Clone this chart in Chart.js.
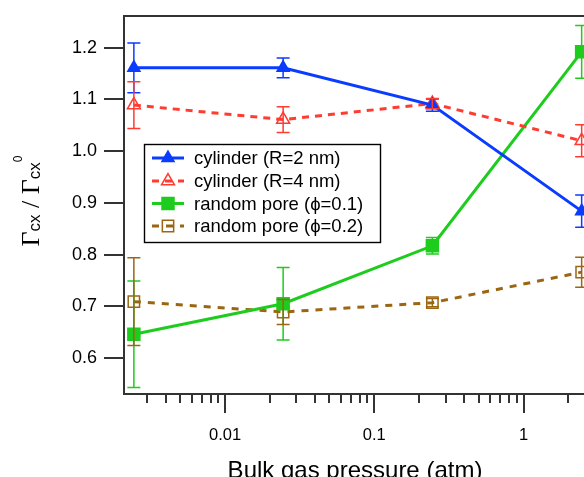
<!DOCTYPE html>
<html><head><meta charset="utf-8">
<script src="https://cdn.jsdelivr.net/npm/chart.js@4.4.1/dist/chart.umd.min.js"></script>
<style>
html,body{margin:0;padding:0;overflow:hidden;background:#fff;width:584px;height:477px}
#wrap{position:absolute;left:0;top:0;width:600px;height:500px}
canvas{display:block}
</style>
</head><body><div id="wrap"><canvas id="c" width="600" height="500"></canvas></div>
<script>
// ---- data ----
const pressures = [0.00245, 0.0245, 0.245, 2.45];
const seriesNames = ['cylinder (R=2 nm)', 'cylinder (R=4 nm)', 'random pore (\u03D5=0.1)', 'random pore (\u03D5=0.2)'];
const cyl2 = [1.161, 1.161, 1.089, 0.884];
const cyl2Err = [0.048, 0.019, 0.012, 0.031];
const cyl4 = [1.089, 1.061, 1.092, 1.020];
const cyl4Err = [0.045, 0.025, 0.010, 0.031];
const pore1 = [0.646, 0.705, 0.817, 1.192];
const pore1Err = [0.103, 0.070, 0.016, 0.051];
const pore2 = [0.709, 0.689, 0.707, 0.766];
const pore2Err = [0.085, 0.024, 0.008, 0.029];
const xMajorTicks = [0.01, 0.1, 1];
const xTickLabels = ['0.01', '0.1', '1'];
const yTickValues = [0.6, 0.7, 0.8, 0.9, 1.0, 1.1, 1.2];
const yTickLabels = ['0.6', '0.7', '0.8', '0.9', '1.0', '1.1', '1.2'];
const xAxisTitle = 'Bulk gas pressure (atm)';

// ---- styles ----
const colors = ['#0a3cff', '#ff3c32', '#1ecc1e', '#9a6612'];
const axisColor = '#333333';
const SANS = '"Liberation Sans", Arial, Helvetica, sans-serif';
const SERIF = '"Liberation Serif", "Times New Roman", serif';

// minor+major tick positions of the log axis (decades)
const xTickValues = [];
for (let e = -3; e <= 0; e++) for (let k = 1; k <= 9; k++) xTickValues.push(+(k * Math.pow(10, e)).toPrecision(6));

const toXY = arr => arr.map((v, i) => ({x: pressures[i], y: v}));
const mk = (i, vals, errs, style, filled, radius, dash) => ({
  label: seriesNames[i], data: toXY(vals), errors: errs,
  borderColor: colors[i], backgroundColor: filled ? colors[i] : 'rgba(0,0,0,0)',
  borderWidth: 3, borderDash: dash, tension: 0, fill: false,
  pointStyle: style, pointRadius: radius, pointHoverRadius: radius,
  pointBorderWidth: 1.5, pointBorderColor: colors[i],
  pointBackgroundColor: filled ? colors[i] : 'rgba(0,0,0,0)'
});

const datasets = [
  mk(0, cyl2, cyl2Err, 'triangle', true, 7, []),
  mk(1, cyl4, cyl4Err, 'triangle', false, 7.5, [7, 6]),
  mk(2, pore1, pore1Err, 'rect', true, 8.5, []),
  mk(3, pore2, pore2Err, 'rect', false, 8, [7, 7])
];

function drawMarker(ctx, style, r, x, y, color, filled) {
  ctx.save();
  ctx.setLineDash([]);
  ctx.lineWidth = 1.5;
  ctx.strokeStyle = color; ctx.fillStyle = color;
  ctx.beginPath();
  if (style === 'triangle') {
    let a = 0;
    ctx.moveTo(x + Math.sin(a) * r, y - Math.cos(a) * r);
    a += 2 * Math.PI / 3;
    ctx.lineTo(x + Math.sin(a) * r, y - Math.cos(a) * r);
    a += 2 * Math.PI / 3;
    ctx.lineTo(x + Math.sin(a) * r, y - Math.cos(a) * r);
    ctx.closePath();
  } else {
    const s = Math.SQRT1_2 * r;
    ctx.rect(x - s, y - s, 2 * s, 2 * s);
  }
  if (filled) ctx.fill();
  ctx.stroke();
  ctx.restore();
}

const errorBars = {
  id: 'errorBars',
  afterDatasetsDraw(chart) {
    const ctx = chart.ctx, xs = chart.scales.x, ys = chart.scales.y;
    chart.data.datasets.forEach((ds, di) => {
      ctx.save();
      ctx.strokeStyle = ds.borderColor; ctx.lineWidth = 1.5; ctx.setLineDash([]);
      ds.data.forEach((p, i) => {
        const e = ds.errors[i];
        const px = xs.getPixelForValue(p.x);
        const t = ys.getPixelForValue(p.y + e), b = ys.getPixelForValue(p.y - e);
        ctx.beginPath();
        ctx.moveTo(px, t); ctx.lineTo(px, b);
        ctx.moveTo(px - 6.5, t); ctx.lineTo(px + 6.5, t);
        ctx.moveTo(px - 6.5, b); ctx.lineTo(px + 6.5, b);
        ctx.stroke();
      });
      ctx.restore();
    });
  }
};

const decorations = {
  id: 'decorations',
  afterDraw(chart) {
    const ctx = chart.ctx, xs = chart.scales.x, ys = chart.scales.y, ca = chart.chartArea;
    ctx.save();
    ctx.fillStyle = axisColor;
    // top frame line
    ctx.fillRect(ca.left - 1, ca.top - 1, chart.width - ca.left + 1, 2);
    // y ticks (outside, left)
    ys.ticks.forEach(t => {
      const p = Math.round(ys.getPixelForValue(t.value));
      ctx.fillRect(ca.left - 20, p - 1, 20, 2);
    });
    // x ticks (outside, below): major long, minor short
    xs.ticks.forEach(t => {
      const p = Math.round(xs.getPixelForValue(t.value));
      const major = xMajorTicks.some(m => Math.abs(m - t.value) / m < 1e-6);
      ctx.fillRect(p - 1, ca.bottom, 2, major ? 19 : 9);
    });
    ctx.restore();

    // legend
    ctx.save();
    const L = {x: 144, y: 144, w: 236, h: 98};
    ctx.strokeStyle = '#000'; ctx.lineWidth = 1.4;
    ctx.strokeRect(L.x + 0.5, L.y + 0.5, L.w, L.h);
    const rows = [158, 181, 203.5, 226];
    chart.data.datasets.forEach((ds, i) => {
      const y = rows[i];
      ctx.save();
      ctx.strokeStyle = ds.borderColor; ctx.lineWidth = 3;
      ctx.setLineDash(ds.borderDash || []);
      ctx.beginPath(); ctx.moveTo(152, y); ctx.lineTo(184, y); ctx.stroke();
      ctx.restore();
      drawMarker(ctx, ds.pointStyle, ds.pointRadius, 168, y, ds.borderColor,
                 ds.pointBackgroundColor !== 'rgba(0,0,0,0)');
      ctx.fillStyle = '#000';
      ctx.font = '18.5px ' + SANS;
      ctx.textBaseline = 'middle'; ctx.textAlign = 'left';
      ctx.fillText(ds.label, 194, y + 1);
    });
    ctx.restore();

    // y-axis title:  Γcx / Γcx^0  (rotated)
    ctx.save();
    ctx.translate(39, 201);
    ctx.rotate(-Math.PI / 2);
    const segs = [
      {t: '\u0393', f: '26px ' + SERIF, dy: 0},
      {t: 'cx', f: '17px ' + SANS, dy: 1},
      {t: ' / ', f: '26px ' + SERIF, dy: 0},
      {t: '\u0393', f: '26px ' + SERIF, dy: 0},
      {t: 'cx', f: '17px ' + SANS, dy: 1},
      {t: '0', f: '12px ' + SANS, dy: -17}
    ];
    let total = 0;
    segs.forEach(s => { ctx.font = s.f; s.w = ctx.measureText(s.t).width; total += s.w; });
    let cx = -total / 2;
    ctx.fillStyle = '#000'; ctx.textBaseline = 'alphabetic'; ctx.textAlign = 'left';
    segs.forEach(s => { ctx.font = s.f; ctx.fillText(s.t, cx, s.dy); cx += s.w; });
    ctx.restore();
  }
};

new Chart(document.getElementById('c'), {
  type: 'line',
  data: {datasets},
  options: {
    responsive: false,
    animation: false,
    devicePixelRatio: 1,
    layout: {padding: {top: 16, right: 14, left: 0, bottom: 0}},
    plugins: {legend: {display: false}, tooltip: {enabled: false}},
    scales: {
      x: {
        type: 'logarithmic',
        bounds: 'data',
        min: 0.002104,
        max: 2.62,
        afterBuildTicks: s => { s.ticks = xTickValues.filter(v => v >= s.min && v <= s.max).map(v => ({value: v})); },
        afterFit: s => { s.height = 106; s.paddingLeft = 0; s.paddingRight = 0; s.paddingTop = 0; s.paddingBottom = 0; },
        grid: {display: false, drawTicks: false},
        border: {display: true, color: axisColor, width: 2},
        ticks: {
          autoSkip: false, maxRotation: 0, minRotation: 0, padding: 32, color: '#000',
          font: {family: SANS, size: 16.5},
          callback: v => { const k = xMajorTicks.findIndex(m => Math.abs(m - v) / m < 1e-6); return k >= 0 ? xTickLabels[k] : ''; }
        },
        title: {display: true, text: xAxisTitle, color: '#000', font: {family: SANS, size: 24}, padding: {top: 0, bottom: 14}}
      },
      y: {
        type: 'linear',
        bounds: 'data',
        min: 0.5304,
        max: 1.2613,
        afterBuildTicks: s => { s.ticks = yTickValues.map(v => ({value: v})); },
        afterFit: s => { s.width = 124; s.paddingTop = 0; s.paddingBottom = 0; s.paddingLeft = 0; s.paddingRight = 0; },
        grid: {display: false, drawTicks: false},
        border: {display: true, color: axisColor, width: 2},
        ticks: {
          padding: 27, color: '#000', font: {family: SANS, size: 18},
          callback: (v, i) => yTickLabels[i]
        }
      }
    }
  },
  plugins: [errorBars, decorations]
});
</script>
</body></html>
